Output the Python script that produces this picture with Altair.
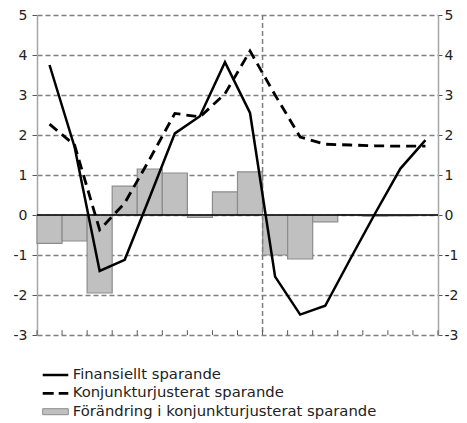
import altair as alt
import pandas as pd

years = list(range(2000, 2016))
finansiellt = [3.75, 1.70, -1.40, -1.12, 0.45, 2.04, 2.47, 3.82, 2.55, -1.54, -2.49, -2.27, -1.10, 0.05, 1.16, 1.87]
konjunktur = [2.27, 1.75, -0.37, 0.30, 1.40, 2.54, 2.45, 3.03, 4.10, 3.00, 1.95, 1.77, 1.75, 1.73, 1.72, 1.72]
forandring = [-0.71, -0.65, -1.95, 0.72, 1.15, 1.05, -0.06, 0.58, 1.08, -1.00, -1.10, -0.17, 0.01, -0.03, -0.02, 0.00]
y_ticks = [-3, -2, -1, 0, 1, 2, 3, 4, 5]
x_label_years = [2000, 2002, 2004, 2006, 2008, 2010, 2012, 2014]
divider_year = 2008.5
legend_labels = ["Finansiellt sparande", "Konjunkturjusterat sparande",
                 "Förändring i konjunkturjusterat sparande"]

FONT = "DejaVu Sans"
FS = 14
LFS = 14.8
GRID = "#7f7f7f"

df = pd.DataFrame({"year": years, "fin": finansiellt, "konj": konjunktur, "chg": forandring})
bounds = pd.DataFrame({"b": [y - 0.5 for y in years] + [years[-1] + 0.5]})

xs = alt.Scale(domain=[years[0] - 0.5, years[-1] + 0.5], nice=False, zero=False)
ys = alt.Scale(domain=[y_ticks[0], y_ticks[-1]], nice=False, zero=False)

base = alt.Chart(df)

bars = base.transform_calculate(
    x0="datum.year - 0.5", x1="datum.year + 0.5"
).mark_rect(fill="#c0c0c0", stroke="#8c8c8c", strokeWidth=1.2).encode(
    x=alt.X("x0:Q", scale=xs, axis=alt.Axis(
        values=x_label_years,
        labelExpr="(datum.value % 100 < 10 ? '0' : '') + (datum.value % 100)",
        domain=False, ticks=False, grid=False, labelPadding=10, title=None,
        labelFont=FONT, labelFontSize=FS, labelColor="#222")),
    x2="x1:Q",
    y=alt.Y("chg:Q", scale=ys, axis=alt.Axis(
        orient="left", values=y_ticks, labelExpr="datum.value + ''",
        grid=True, gridDash=[5, 3], gridColor=GRID,
        gridWidth=1.5, domainColor="#a6a6a6", domainWidth=1.5, tickColor="#555",
        tickSize=5, labelPadding=5, title=None, labelFont=FONT, labelFontSize=FS,
        labelColor="#222")),
    y2=alt.datum(0),
)

zero = alt.Chart(pd.DataFrame({"v": [0]})).mark_rule(color="black", strokeWidth=1.4).encode(
    y=alt.Y("v:Q", scale=ys, axis=None)
)

vline = alt.Chart(pd.DataFrame({"v": [divider_year]})).mark_rule(
    color=GRID, strokeDash=[5, 3], strokeWidth=1.5
).encode(x=alt.X("v:Q", scale=xs, axis=None))

ticks = alt.Chart(bounds).transform_calculate(
    lo=str(y_ticks[0]), hi=str(y_ticks[0] + 0.12)
).mark_rule(color="#555", strokeWidth=1).encode(
    x=alt.X("b:Q", scale=xs, axis=None),
    y=alt.Y("lo:Q", scale=ys, axis=None),
    y2="hi:Q",
)

line_fin = base.mark_line(color="black", strokeWidth=2.5).encode(
    x=alt.X("year:Q", scale=xs, axis=None),
    y=alt.Y("fin:Q", scale=ys, axis=None),
)

line_konj = base.mark_line(color="black", strokeWidth=2.8, strokeDash=[10, 6]).encode(
    x=alt.X("year:Q", scale=xs, axis=None),
    y=alt.Y("konj:Q", scale=ys, axis=alt.Axis(
        orient="right", values=y_ticks, labelExpr="datum.value + ''",
        grid=False, domainColor="#a6a6a6", domainWidth=1.5,
        tickColor="#555", tickSize=4, labelPadding=2, title=None, labelFont=FONT,
        labelFontSize=FS, labelColor="#222")),
)

# legend
lx0, lx1, tx = 5.7, 31.3, 35.7
ly = [360, 378.3, 396.7]

def one(i):
    return alt.Chart(pd.DataFrame({"label": [legend_labels[i]]}))

leg1 = one(0).mark_rule(color="black", strokeWidth=2.5).encode(
    x=alt.value(lx0), x2=alt.value(lx1), y=alt.value(ly[0]))
leg2 = one(1).mark_rule(color="black", strokeWidth=2.8, strokeDash=[11, 5]).encode(
    x=alt.value(lx0), x2=alt.value(lx1), y=alt.value(ly[1]))
leg3 = one(2).mark_rect(fill="#c0c0c0", stroke="#8c8c8c", strokeWidth=1).encode(
    x=alt.value(lx0), x2=alt.value(lx1), y=alt.value(ly[2] - 3), y2=alt.value(ly[2] + 3))
texts = [
    one(i).mark_text(align="left", baseline="middle", font=FONT, fontSize=LFS, color="#222").encode(
        x=alt.value(tx), y=alt.value(ly[i]), text="label:N")
    for i in range(3)
]

chart = alt.layer(
    bars, zero, vline, ticks, line_konj, line_fin, leg1, leg2, leg3, *texts
).resolve_axis(y="independent").properties(
    width=401, height=320, autosize="none",
    padding={"left": 29, "top": 7, "right": 21, "bottom": 90},
).configure_view(stroke=None)

chart.save("out.html", embed_options={"renderer": "svg", "actions": False})
